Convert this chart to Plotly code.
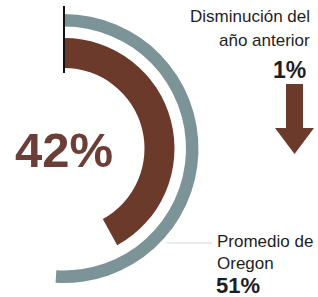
import plotly.graph_objects as go
import math

# Data
district_pct = 42        # inner brown arc
oregon_pct = 51          # outer gray arc
change_pct = 1           # decrease from previous year
label_change = ["Disminución del", "año anterior"]
label_avg = ["Promedio de", "Oregon"]

W, H = 318, 297
BROWN = "#6b3a2b"
GRAY = "#7c9497"
TEXT = "#1e1e1e"

def px(x):
    return x / W

def py(y):
    return 1 - y / H

fig = go.Figure()

# outer gray ring (Oregon average)
fig.add_trace(go.Barpolar(
    r=[12.5], base=[122], theta=[oregon_pct * 3.6 / 2], width=[oregon_pct * 3.6],
    marker=dict(color=GRAY, line=dict(width=0)), hoverinfo="skip", showlegend=False))

# inner brown ring (district)
fig.add_trace(go.Barpolar(
    r=[30], base=[80.5], theta=[district_pct * 3.6 / 2], width=[district_pct * 3.6],
    marker=dict(color=BROWN, line=dict(width=0)), hoverinfo="skip", showlegend=False))

# black start marker
fig.add_trace(go.Scatterpolar(
    r=[75.5, 142.5], theta=[0, 0], mode="lines",
    line=dict(color="#111111", width=2), hoverinfo="skip", showlegend=False))

R = 145.0
cx, cy = 64.0, 148.5
xmin = math.cos(math.radians(94))  # negative
left = cx + xmin * R
right = cx + R
top = cy - R
bottom = cy + R

fig.update_layout(
    width=W, height=H,
    margin=dict(l=0, r=0, t=0, b=0),
    paper_bgcolor="white",
    plot_bgcolor="white",
    polar=dict(
        domain=dict(x=[px(left), px(right)], y=[py(bottom), py(top)]),
        sector=[-94, 92],
        bgcolor="rgba(0,0,0,0)",
        hole=0,
        radialaxis=dict(range=[0, R], visible=False, showgrid=False),
        angularaxis=dict(rotation=90, direction="clockwise", visible=False,
                         showgrid=False, showline=False, ticks=""),
    ),
    font=dict(family="Liberation Sans, Arial, sans-serif", color=TEXT),
)

# big percent
fig.add_annotation(x=px(63.5), y=py(150), xref="paper", yref="paper",
                   text=f"<b>{district_pct}%</b>", showarrow=False,
                   font=dict(size=49, color="#6b3f37"),
                   xanchor="center", yanchor="middle")

# change label
fig.add_annotation(x=px(312), y=py(17), xref="paper", yref="paper",
                   text=label_change[0], showarrow=False,
                   font=dict(size=17), xanchor="right", yanchor="middle")
fig.add_annotation(x=px(312), y=py(40), xref="paper", yref="paper",
                   text=label_change[1], showarrow=False,
                   font=dict(size=17), xanchor="right", yanchor="middle")
fig.add_annotation(x=px(308), y=py(70), xref="paper", yref="paper",
                   text=f"<b>{change_pct}%</b>", showarrow=False,
                   font=dict(size=23), xanchor="right", yanchor="middle")

# down arrow
ax_ = [286, 303, 303, 314, 294.5, 275, 286]
ay_ = [84, 84, 128, 128, 154, 128, 128]
path = "M " + " L ".join(f"{px(a)},{py(b)}" for a, b in zip(ax_, ay_)) + " Z"
fig.add_shape(type="path", path=path, xref="paper", yref="paper",
              fillcolor=BROWN, line=dict(width=0))

# leader line to Oregon label
fig.add_shape(type="line", xref="paper", yref="paper",
              x0=px(166), x1=px(212), y0=py(243), y1=py(243),
              line=dict(color="#d3d8d8", width=1))

# Oregon average label
fig.add_annotation(x=px(215), y=py(241), xref="paper", yref="paper",
                   text=label_avg[0], showarrow=False,
                   font=dict(size=17), xanchor="left", yanchor="middle")
fig.add_annotation(x=px(215), y=py(263), xref="paper", yref="paper",
                   text=label_avg[1], showarrow=False,
                   font=dict(size=17), xanchor="left", yanchor="middle")
fig.add_annotation(x=px(214), y=py(285), xref="paper", yref="paper",
                   text=f"<b>{oregon_pct}%</b>", showarrow=False,
                   font=dict(size=22), xanchor="left", yanchor="middle")

fig.write_html("out.html", config={"displayModeBar": False},
               post_script="document.body.style.margin='0';")
